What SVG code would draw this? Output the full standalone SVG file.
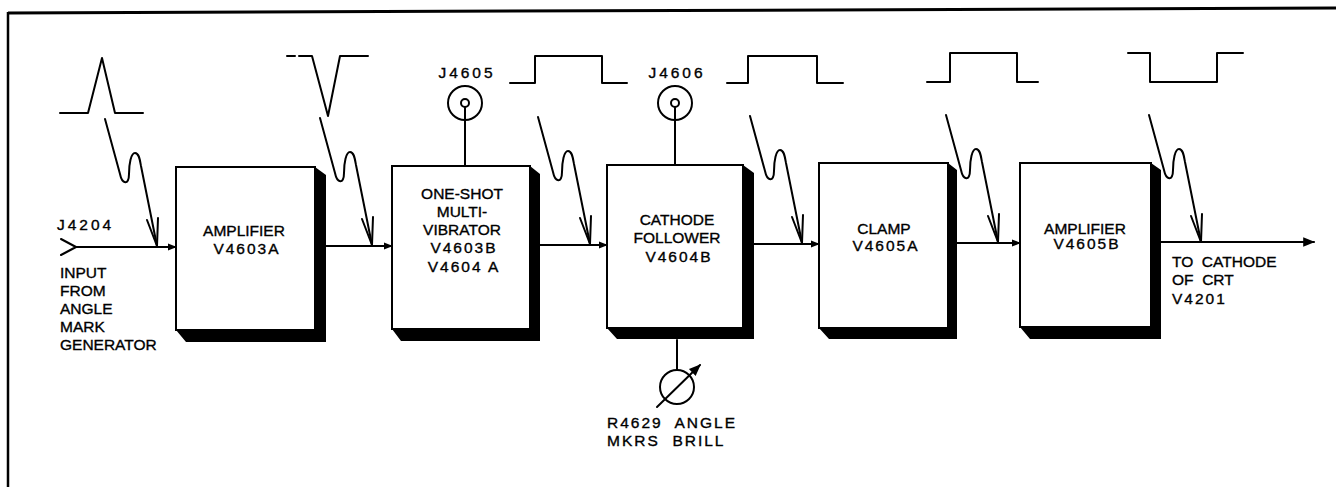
<svg xmlns="http://www.w3.org/2000/svg" width="1336" height="487" viewBox="0 0 1336 487">
<style>
.t{font-family:"Liberation Sans",Arial,sans-serif;font-size:15.5px;fill:#000;stroke:#000;stroke-width:0.35px;}
.m{text-anchor:middle;}
.d{letter-spacing:2px;}
.j{letter-spacing:3px;}
.ln{fill:none;stroke:#000;stroke-width:2;stroke-linejoin:round;stroke-linecap:round;}
.box{fill:#fff;stroke:#000;stroke-width:2;}
.sh{fill:#000;}
</style>
<defs>
<marker id="ah" viewBox="0 0 10 10" refX="9" refY="5" markerWidth="9" markerHeight="9" markerUnits="userSpaceOnUse" orient="auto">
<path d="M0,1 L10,5 L0,9 Z" fill="#000"/>
</marker>
<marker id="ah2" viewBox="0 0 10 10" refX="9" refY="5" markerWidth="12" markerHeight="12" markerUnits="userSpaceOnUse" orient="auto">
<path d="M0,1 L10,5 L0,9 Z" fill="#000"/>
</marker>
<g id="sq">
<path class="ln" d="M-52,-127 L-37,-72 C-35,-62 -28,-60 -28,-72 C-28,-82 -26,-93 -22,-93 C-18,-93 -17,-86 -16,-80 L0,0"/>
<path class="ln" d="M-10,-26 L0,0 L1,-28"/>
</g>
</defs>

<g id="frame">
<path d="M8,13 L1336,8" stroke="#000" stroke-width="3" fill="none"/>
<path d="M8,12 L8,487" stroke="#000" stroke-width="2.5" fill="none"/>
</g>

<g id="waveforms">
<path class="ln" d="M60,113 L88,113 L102,58 L115,113 L143,113"/>
<path class="ln" d="M287,56 L295,56 M299,56 L312,56 L328,116 L340,56 L368,56"/>
<path class="ln" d="M510,83 L535,83 L535,56 L602,56 L602,83 L627,83"/>
<path class="ln" d="M727,83 L748,83 L748,56 L817,56 L817,83 L843,83"/>
<path class="ln" d="M927,82 L950,82 L950,53 L1017,53 L1017,82 L1038,82"/>
<path class="ln" d="M1128,53 L1150,53 L1150,82 L1217,82 L1217,53 L1243,53"/>
</g>

<g id="connectors">
<path class="ln" d="M61,239 L76,247 L61,255"/>
<path class="ln" d="M76,247 L176,247" marker-end="url(#ah)"/>
<path class="ln" d="M326,246 L392,246" marker-end="url(#ah)"/>
<path class="ln" d="M540,245 L607,245" marker-end="url(#ah)"/>
<path class="ln" d="M754,244 L819,244" marker-end="url(#ah)"/>
<path class="ln" d="M957,243 L1020,243" marker-end="url(#ah)"/>
<path class="ln" d="M1161,242 L1314,242" marker-end="url(#ah2)"/>
<path class="ln" d="M465,107 L465,166"/>
<path class="ln" d="M675,107 L675,165"/>
<path class="ln" d="M677,340 L677,370"/>
<use href="#sq" x="157" y="246"/>
<use href="#sq" x="372" y="245"/>
<use href="#sq" x="590" y="244"/>
<use href="#sq" x="802" y="243"/>
<use href="#sq" x="998" y="242"/>
<use href="#sq" x="1201" y="242"/>
</g>

<g id="j4204">
<text class="t j" x="57" y="230">J4204</text>
<text class="t" x="60" y="278">INPUT</text>
<text class="t" x="60" y="296">FROM</text>
<text class="t" x="60" y="314">ANGLE</text>
<text class="t" x="60" y="332">MARK</text>
<text class="t" x="60" y="350">GENERATOR</text>
</g>

<g id="amp1">
<path class="sh" d="M315,167 L326,175 L326,342 L186,342 L176,330 L315,330 Z"/>
<rect class="box" x="176" y="167" width="139" height="163"/>
<text class="t m" x="244" y="236">AMPLIFIER</text>
<text class="t m d" x="247" y="254">V4603A</text>
</g>

<g id="oneshot">
<path class="sh" d="M530,166 L540,174 L540,341 L401,341 L392,329 L530,329 Z"/>
<rect class="box" x="392" y="166" width="138" height="163"/>
<text class="t m" x="462" y="199">ONE-SHOT</text>
<text class="t m" x="462" y="217">MULTI-</text>
<text class="t m" x="462" y="235">VIBRATOR</text>
<text class="t m d" x="464" y="253">V4603B</text>
<text class="t m d" x="464" y="272">V4604 A</text>
</g>

<g id="j4605">
<circle cx="465" cy="103" r="17" class="ln"/>
<circle cx="465" cy="103" r="4" class="ln"/>
<text class="t m j" x="467" y="78">J4605</text>
</g>

<g id="cathode">
<path class="sh" d="M743,165 L754,173 L754,339 L617,339 L607,328 L743,328 Z"/>
<rect class="box" x="607" y="165" width="136" height="163"/>
<text class="t m" x="677" y="225">CATHODE</text>
<text class="t m" x="677" y="243">FOLLOWER</text>
<text class="t m d" x="679" y="262">V4604B</text>
</g>

<g id="j4606">
<circle cx="675" cy="103" r="17" class="ln"/>
<circle cx="675" cy="103" r="4" class="ln"/>
<text class="t m j" x="677" y="78">J4606</text>
</g>

<g id="r4629">
<circle cx="677" cy="387" r="17" class="ln"/>
<path class="ln" d="M657,407 L700,365" marker-end="url(#ah2)"/>
<text class="t d" x="607" y="428" xml:space="preserve">R4629  ANGLE</text>
<text class="t d" x="607" y="446" xml:space="preserve">MKRS  BRILL</text>
</g>

<g id="clamp">
<path class="sh" d="M948,163 L957,170 L957,339 L829,339 L819,328 L948,328 Z"/>
<rect class="box" x="819" y="163" width="129" height="165"/>
<text class="t m" x="884" y="234">CLAMP</text>
<text class="t m d" x="886" y="251">V4605A</text>
</g>

<g id="amp2">
<path class="sh" d="M1151,163 L1161,170 L1161,339 L1030,339 L1020,327 L1151,327 Z"/>
<rect class="box" x="1020" y="163" width="131" height="164"/>
<text class="t m" x="1085" y="234">AMPLIFIER</text>
<text class="t m d" x="1087" y="249">V4605B</text>
</g>

<g id="output">
<text class="t" x="1172" y="267" xml:space="preserve">TO  CATHODE</text>
<text class="t" x="1172" y="285" xml:space="preserve">OF  CRT</text>
<text class="t d" x="1172" y="304">V4201</text>
</g>
</svg>
